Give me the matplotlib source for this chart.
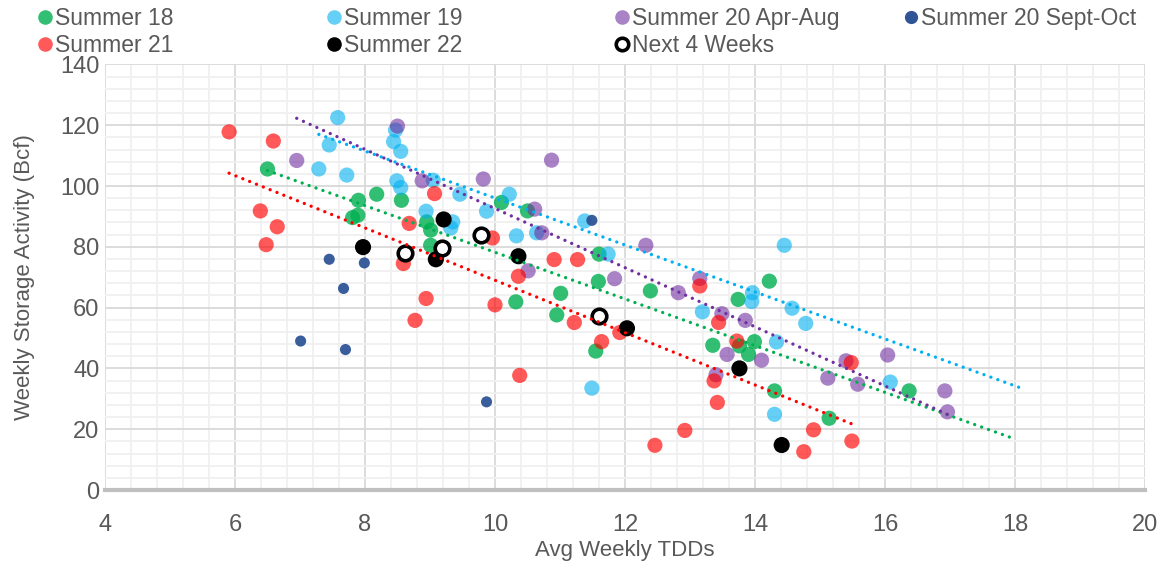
import numpy as np
import matplotlib
matplotlib.use("Agg")
import matplotlib.pyplot as plt
from matplotlib.lines import Line2D

plt.rcParams['font.family'] = ['Liberation Sans', 'DejaVu Sans']

# ---------------- data ----------------
s18_x = [6.50, 7.90, 8.18, 8.56, 7.81, 7.89, 8.95, 9.01, 9.01, 10.10, 10.50, 10.32, 11.01, 10.95,
         11.55, 11.60, 11.59, 12.39, 13.74, 14.22, 13.35, 13.76, 13.99, 13.90, 14.30, 15.14, 16.37]
s18_y = [105.6, 95.3, 97.3, 95.3, 89.6, 90.4, 88.2, 85.5, 80.5, 94.6, 91.8, 61.9, 64.7, 57.6,
         45.7, 77.6, 68.6, 65.5, 62.7, 68.7, 47.6, 47.4, 48.8, 44.6, 32.6, 23.6, 32.6]

s19_x = [7.58, 7.45, 7.29, 7.72, 8.47, 8.44, 8.55, 8.49, 8.55, 9.05, 8.94, 9.46, 9.35, 9.32, 10.22,
         9.87, 9.79, 10.33, 10.64, 11.38, 11.74, 13.19, 11.49, 14.45, 13.96, 13.95, 14.57, 14.78,
         14.33, 14.30, 16.08]
s19_y = [122.5, 113.5, 105.6, 103.6, 118.4, 114.6, 111.4, 101.7, 99.5, 101.9, 91.7, 97.3, 88.2, 86.2,
         97.3, 91.7, 84.0, 83.6, 84.6, 88.5, 77.6, 58.6, 33.5, 80.5, 64.9, 62.0, 59.8, 54.8,
         48.7, 24.9, 35.5]

s20a_x = [6.95, 8.50, 8.88, 10.87, 9.82, 10.61, 10.72, 10.51, 11.84, 12.32, 13.15, 12.82, 13.49,
          13.85, 13.57, 14.10, 13.40, 15.12, 15.40, 15.58, 16.04, 16.92, 16.96]
s20a_y = [108.4, 119.7, 101.7, 108.5, 102.3, 92.4, 84.6, 72.1, 69.5, 80.5, 69.6, 64.9, 58.0,
          55.8, 44.6, 42.7, 37.9, 36.8, 42.5, 34.8, 44.4, 32.6, 25.7]

s20b_x = [7.45, 7.99, 7.67, 7.01, 7.70, 11.49, 9.87]
s20b_y = [75.9, 74.7, 66.3, 49.0, 46.2, 88.7, 29.0]

s21_x = [5.91, 6.59, 6.39, 6.65, 6.48, 8.68, 9.07, 8.59, 8.94, 8.77, 9.96, 10.91, 11.27, 10.36,
         10.00, 11.22, 11.92, 11.64, 10.38, 12.92, 12.46, 13.15, 13.44, 13.72, 13.37, 13.42,
         14.75, 14.90, 15.49, 15.48]
s21_y = [117.8, 114.8, 91.8, 86.6, 80.7, 87.7, 97.5, 74.5, 63.0, 55.8, 82.9, 75.8, 75.8, 70.3,
         60.9, 55.1, 51.8, 48.8, 37.7, 19.6, 14.7, 67.1, 55.1, 49.0, 35.9, 28.8,
         12.6, 19.8, 16.1, 41.9]

s22_x = [7.97, 9.21, 9.09, 10.36, 12.03, 13.76, 14.41]
s22_y = [79.9, 89.0, 75.9, 76.9, 53.2, 40.0, 14.8]

next4_x = [8.62, 9.18, 9.79, 11.60]
next4_y = [77.8, 79.6, 84.0, 57.3]

# linear trendlines (slope, intercept), plus forward forecast
trend_s21 = (-8.61, 155.1, 0.0)
trend_s18 = (-7.68, 155.0, 1.6)
trend_s19 = (-7.725, 173.3, 2.0)
trend_s20a = (-9.73, 189.9, 0.0)

x_ticks = [4, 6, 8, 10, 12, 14, 16, 18, 20]
y_ticks = [0, 20, 40, 60, 80, 100, 120, 140]

# ---------------- style ----------------
GREEN = '#00B050'
LBLUE = '#00B0F0'
PURPLE = '#7030A0'
DBLUE = '#2F5597'
RED = '#FF0000'
TXT = '#595959'

fig = plt.figure(figsize=(11.7, 5.64), dpi=100)
ax = fig.add_axes([0.0897, 0.1312, 0.889, 0.7546])

ax.set_xlim(4, 20)
ax.set_ylim(0, 140)
ax.set_xticks(x_ticks)
ax.set_yticks(y_ticks)
ax.set_xticks(np.arange(4, 20.01, 0.4), minor=True)
ax.set_yticks(np.arange(0, 140.01, 4), minor=True)
ax.grid(which='major', color='#D9D9D9', lw=1.3, zorder=0)
ax.grid(which='minor', color='#F0F0F0', lw=1.3, zorder=0)
ax.set_axisbelow(True)
ax.tick_params(which='both', length=0, labelsize=17, colors=TXT)
ax.tick_params(axis='y', pad=4)
ax.tick_params(axis='x', pad=17)
for s in ['top', 'right', 'left']:
    ax.spines[s].set_visible(False)
ax.spines['bottom'].set_color('#BFBFBF')
ax.spines['bottom'].set_linewidth(3)
ax.spines['bottom'].set_zorder(1)

ax.set_xlabel('Avg Weekly TDDs', fontsize=16, color=TXT)
ax.set_ylabel('Weekly Storage Activity (Bcf)', fontsize=16, color=TXT)
ax.xaxis.set_label_coords(0.5, -0.118)
ax.yaxis.set_label_coords(-0.067, 0.5)

S = 120
ax.scatter(s18_x, s18_y, s=S, color=GREEN, alpha=0.8, edgecolors='none', zorder=3)
ax.scatter(s19_x, s19_y, s=S, color=LBLUE, alpha=0.6, edgecolors='none', zorder=3)
ax.scatter(s20a_x, s20a_y, s=S, color=PURPLE, alpha=0.6, edgecolors='none', zorder=3)
ax.scatter(s20b_x, s20b_y, s=64, color=DBLUE, alpha=0.95, edgecolors='none', zorder=3)
ax.scatter(s21_x, s21_y, s=S, color=RED, alpha=0.65, edgecolors='none', zorder=3)
ax.scatter(s22_x, s22_y, s=135, color='black', edgecolors='none', zorder=4)
ax.scatter(next4_x, next4_y, s=110, facecolors='white', edgecolors='black',
           linewidths=2.6, zorder=5)


def trend(xs, coef, color):
    m, b, forward = coef
    xs = np.asarray(xs)
    xx = np.array([xs.min(), xs.max() + forward])
    ax.plot(xx, m * xx + b, color=color, lw=2.4, linestyle=(0, (0.01, 2.2)),
            dash_capstyle='round', zorder=6)


trend(s21_x, trend_s21, RED)
trend(s18_x, trend_s18, GREEN)
trend(s19_x, trend_s19, LBLUE)
trend(s20a_x, trend_s20a, PURPLE)

# ---------------- legend ----------------
def h(color, alpha=1.0, ms=10.5, face=None, mew=0):
    return Line2D([], [], linestyle='none', marker='o', markersize=ms,
                  markerfacecolor=face if face is not None else color,
                  markeredgecolor=color, markeredgewidth=mew, alpha=alpha)

cols = [
    ([h(GREEN, 0.8), h(RED, 0.65)], ['Summer 18', 'Summer 21'], 0.0248),
    ([h(LBLUE, 0.6), h('black')], ['Summer 19', 'Summer 22'], 0.2718),
    ([h(PURPLE, 0.6), h('black', ms=9, face='white', mew=2.6)], ['Summer 20 Apr-Aug', 'Next 4 Weeks'], 0.518),
    ([h(DBLUE, 1.0, ms=9.5)], ['Summer 20 Sept-Oct'], 0.765),
]
for handles, labels, x0 in cols:
    leg = fig.legend(handles, labels, loc='upper left', bbox_to_anchor=(x0, 1.004),
                     frameon=False, fontsize=16.5, handlelength=0.6, handletextpad=0.15,
                     labelspacing=0.17, borderaxespad=0.0)
    for t in leg.get_texts():
        t.set_color(TXT)

fig.savefig('out.png', dpi=100)
